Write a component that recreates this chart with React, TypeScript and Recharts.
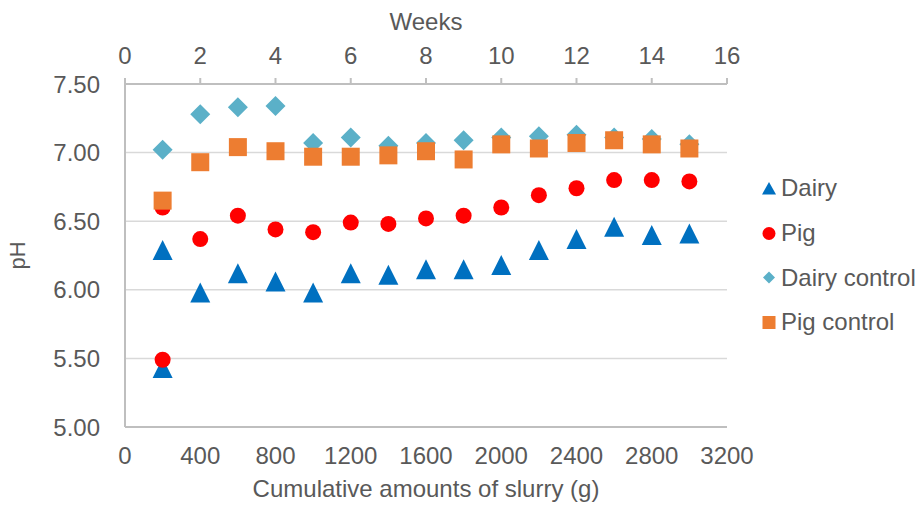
import React from 'react';
import { ScatterChart, Scatter, XAxis, YAxis, CartesianGrid, Legend } from 'recharts';

// cumulative slurry (g); first week has two readings for the treated series
const slurryTreated = [200, 200, 400, 600, 800, 1000, 1200, 1400, 1600, 1800, 2000, 2200, 2400, 2600, 2800, 3000];
const slurryControl = [200, 400, 600, 800, 1000, 1200, 1400, 1600, 1800, 2000, 2200, 2400, 2600, 2800, 3000];

const dairy = [5.43, 6.29, 5.98, 6.12, 6.06, 5.98, 6.12, 6.11, 6.15, 6.15, 6.18, 6.29, 6.37, 6.46, 6.4, 6.41];
const pig = [5.49, 6.6, 6.37, 6.54, 6.44, 6.42, 6.49, 6.48, 6.52, 6.54, 6.6, 6.69, 6.74, 6.8, 6.8, 6.79];
const dairyControl = [7.02, 7.28, 7.33, 7.34, 7.07, 7.11, 7.05, 7.07, 7.09, 7.11, 7.12, 7.13, 7.11, 7.1, 7.06];
const pigControl = [6.65, 6.93, 7.04, 7.01, 6.97, 6.97, 6.98, 7.01, 6.95, 7.06, 7.03, 7.07, 7.09, 7.06, 7.03];

const seriesNames = ['Dairy', 'Pig', 'Dairy control', 'Pig control'];
const slurryTicks = [0, 400, 800, 1200, 1600, 2000, 2400, 2800, 3200];
const weekTicks = [0, 2, 4, 6, 8, 10, 12, 14, 16];
const phTicks = [5, 5.5, 6, 6.5, 7, 7.5];

const FONT = '"Liberation Sans", Arial, sans-serif';
const TEXT = '#595959';
const AXIS = '#BFBFBF';

const colors: Record<string, string> = {
  Dairy: '#0070C0',
  Pig: '#FF0000',
  'Dairy control': '#5BB0C8',
  'Pig control': '#ED7D31',
};

const toPoints = (xs: number[], ys: number[]) => ys.map((y, i) => ({ x: xs[i], y }));

const Triangle = (p: any) => (
  <path d={`M${p.cx},${p.cy - 10}L${p.cx + 10},${p.cy + 10}L${p.cx - 10},${p.cy + 10}Z`} fill={p.fill} />
);
const Dot = (p: any) => <circle cx={p.cx} cy={p.cy} r={8} fill={p.fill} />;
const Diamond = (p: any) => (
  <path d={`M${p.cx},${p.cy - 10}L${p.cx + 10},${p.cy}L${p.cx},${p.cy + 10}L${p.cx - 10},${p.cy}Z`} fill={p.fill} />
);
const Square = (p: any) => <rect x={p.cx - 9} y={p.cy - 9} width={18} height={18} fill={p.fill} />;

const legendIcon = (name: string, c: string) => {
  if (name === 'Dairy') return <path d="M7,1L14,13.5L0,13.5Z" fill={c} />;
  if (name === 'Pig') return <circle cx={7} cy={7.5} r={6.5} fill={c} />;
  if (name === 'Dairy control') return <path d="M7,1.5L13,7.5L7,13.5L1,7.5Z" fill={c} />;
  return <rect x={0.5} y={1} width={13} height={13} fill={c} />;
};

const renderLegend = (props: any) => {
  const items = [...(props.payload || [])].sort(
    (a: any, b: any) => seriesNames.indexOf(a.value) - seriesNames.indexOf(b.value)
  );
  return (
    <div>
      {items.map((e: any) => (
        <div key={e.value} style={{ display: 'flex', alignItems: 'center', height: 44.7 }}>
          <svg width={15} height={15} style={{ flex: 'none' }}>
            {legendIcon(e.value, colors[e.value])}
          </svg>
          <span style={{ marginLeft: 4, whiteSpace: 'nowrap' }}>{e.value}</span>
        </div>
      ))}
    </div>
  );
};

const PhLabel = (props: any) => {
  const vb = props.viewBox || { x: 0, y: 0, width: 0, height: 0 };
  const cx = vb.x + 17.5;
  const cy = vb.y + vb.height / 2;
  return (
    <text x={cx} y={cy} transform={`rotate(-90, ${cx}, ${cy})`} textAnchor="middle" dominantBaseline="central"
      fill={TEXT} fontSize={22} fontFamily={FONT}>
      pH
    </text>
  );
};

export default function App() {
  const tick = { fill: TEXT, fontSize: 24, fontFamily: FONT };
  return (
    <div style={{ position: 'absolute', left: 0, top: 0, fontFamily: FONT }}>
      <ScatterChart width={918} height={506} margin={{ top: 0, right: 191, bottom: 0, left: 0 }}>
        <CartesianGrid horizontal vertical={false} stroke="#D9D9D9" strokeWidth={1.5} />
        <XAxis
          xAxisId={0}
          type="number"
          dataKey="x"
          orientation="bottom"
          domain={[0, 3200]}
          ticks={slurryTicks}
          allowDataOverflow
          height={79}
          tick={tick}
          tickLine={false}
          tickSize={0}
          tickMargin={19.5}
          axisLine={{ stroke: AXIS, strokeWidth: 2 }}
          label={{ value: 'Cumulative amounts of slurry (g)', position: 'insideBottom', offset: 9, fill: TEXT, fontSize: 24, fontFamily: FONT }}
        />
        <XAxis
          xAxisId="top"
          type="number"
          dataKey="x"
          orientation="top"
          domain={[0, 16]}
          ticks={weekTicks}
          allowDataOverflow
          height={84}
          tick={tick}
          tickSize={6}
          tickMargin={14}
          tickLine={{ stroke: AXIS, strokeWidth: 2 }}
          axisLine={{ stroke: AXIS, strokeWidth: 2 }}
          label={{ value: 'Weeks', position: 'insideTop', offset: 13, fill: TEXT, fontSize: 24, fontFamily: FONT }}
        />
        <YAxis
          type="number"
          dataKey="y"
          domain={[5, 7.5]}
          ticks={phTicks}
          allowDataOverflow
          width={125}
          tick={tick}
          tickLine={false}
          tickSize={0}
          tickMargin={25}
          tickFormatter={(v: number) => v.toFixed(2)}
          axisLine={{ stroke: AXIS, strokeWidth: 2 }}
          label={<PhLabel />}
        />
        <Legend
          layout="vertical"
          align="center"
          verticalAlign="middle"
          content={renderLegend}
          wrapperStyle={{ left: 762, top: 166, width: 156, fontSize: 24, fontFamily: FONT, color: TEXT }}
        />
        <Scatter name="Dairy" data={toPoints(slurryTreated, dairy)} fill={colors['Dairy']} shape={Triangle} isAnimationActive={false} />
        <Scatter name="Pig" data={toPoints(slurryTreated, pig)} fill={colors['Pig']} shape={Dot} isAnimationActive={false} />
        <Scatter name="Dairy control" data={toPoints(slurryControl, dairyControl)} fill={colors['Dairy control']} shape={Diamond} isAnimationActive={false} />
        <Scatter name="Pig control" data={toPoints(slurryControl, pigControl)} fill={colors['Pig control']} shape={Square} isAnimationActive={false} />
      </ScatterChart>
    </div>
  );
}
